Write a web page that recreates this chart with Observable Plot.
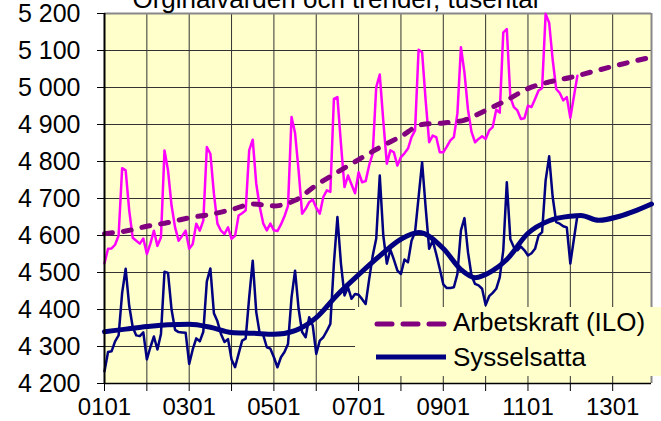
<!DOCTYPE html>
<html>
<head>
<meta charset="utf-8">
<script src="https://cdn.jsdelivr.net/npm/d3@7"></script>
<script src="https://cdn.jsdelivr.net/npm/@observablehq/plot@0.6"></script>
<style>
  html, body { margin: 0; padding: 0; background: white; }
  #wrap { position: relative; width: 661px; height: 421px; overflow: hidden; font-family: "Liberation Sans", Arial, sans-serif; }
  #wrap svg.ov { position: absolute; left: 0; top: 0; }
</style>
</head>
<body>
<div id="wrap"></div>
<script>
// Month index 0 = Jan 2001
const titleText = "Orginalvärden och trender, tusental";
const seriesNames = ["Arbetskraft (ILO)", "Sysselsatta"];
const xTickLabels = ["0101", "0301", "0501", "0701", "0901", "1101", "1301"];
const xLabelIdx = [0, 24, 48, 72, 96, 120, 144];
const yearIdx = [0, 12, 24, 36, 48, 60, 72, 84, 96, 108, 120, 132, 144];
const yTicks = [4200, 4300, 4400, 4500, 4600, 4700, 4800, 4900, 5000, 5100, 5200];

// Labour force, original values (monthly, 2001-01 .. 2012-03)
const lfOrig = [
  4525,4564,4565,4575,4600,4782,4776,4668,4594,4586,4578,4592,
  4550,4578,4613,4572,4595,4830,4776,4681,4622,4586,4599,4613,
  4564,4577,4632,4613,4640,4839,4821,4713,4632,4613,4604,4622,
  4591,4599,4654,4660,4668,4830,4859,4740,4677,4632,4614,4632,
  4614,4612,4630,4652,4680,4920,4877,4776,4659,4672,4690,4697,
  4675,4659,4704,4722,4718,4969,4974,4848,4731,4762,4738,4714,
  4771,4744,4747,4790,4821,5001,5035,4910,4794,4830,4825,4789,
  4812,4822,4835,4866,4884,5102,5095,4965,4852,4870,4866,4825,
  4825,4840,4857,4866,4930,5109,5040,4940,4880,4852,4861,4868,
  4861,4884,4893,4940,4932,5149,5158,4974,4947,4938,4915,4917,
  4951,4947,4969,4992,4998,5199,5175,5075,4996,4985,4965,4974,
  4918,4975,5032
];
// Employed, original values
const empOrig = [
  4233,4285,4287,4314,4330,4445,4510,4410,4352,4330,4328,4338,
  4265,4298,4327,4292,4334,4502,4499,4400,4345,4339,4338,4337,
  4253,4292,4322,4314,4340,4476,4511,4390,4368,4334,4312,4320,
  4265,4244,4280,4316,4321,4433,4532,4393,4334,4330,4298,4294,
  4271,4244,4271,4285,4307,4433,4505,4402,4339,4325,4379,4357,
  4280,4316,4325,4342,4361,4524,4650,4524,4438,4460,4429,4442,
  4440,4428,4415,4482,4545,4592,4762,4600,4524,4562,4535,4505,
  4496,4535,4528,4586,4609,4704,4798,4676,4564,4586,4550,4510,
  4468,4458,4458,4460,4496,4614,4647,4555,4492,4469,4465,4456,
  4412,4436,4445,4456,4487,4560,4744,4590,4568,4560,4570,4560,
  4546,4552,4564,4600,4609,4749,4814,4704,4636,4632,4625,4622,
  4524,4590,4654
];
// Trends (sampled points, drawn with a smooth curve)
const lfTrendIdx = [0,6,12,18,24,30,36,42,48,54,60,66,72,78,84,90,96,102,108,114,120,126,132,138,144,150,155];
const lfTrend = [4605,4612,4625,4635,4648,4657,4670,4685,4680,4695,4736,4771,4805,4838,4868,4900,4904,4912,4938,4966,4997,5015,5027,5042,5057,5071,5082];
const empTrendIdx = [0,6,12,18,24,30,36,42,48,54,60,66,72,78,84,89,96,101,105,110,114,120,126,132,135,140,146,150,155];
const empTrend = [4340,4347,4354,4359,4360,4352,4338,4336,4333,4343,4378,4440,4494,4545,4590,4608,4565,4508,4486,4505,4535,4606,4640,4652,4654,4641,4652,4665,4685];

const colors = { lf: "#FF00FF", emp: "#000080", lfTrend: "#800080", empTrend: "#000080" };

const lfData = lfOrig.map((v, i) => ({ i, v }));
const empData = empOrig.map((v, i) => ({ i, v }));
const lfTrendData = lfTrendIdx.map((i, k) => ({ i, v: lfTrend[k] }));
const empTrendData = empTrendIdx.map((i, k) => ({ i, v: empTrend[k] }));
const xLabelMap = new Map(xLabelIdx.map((d, k) => [d, xTickLabels[k]]));
const fmtY = d => d3.format(",")(d).replace(/,/g, " ");

const chart = Plot.plot({
  width: 661, height: 421,
  marginLeft: 104, marginRight: 10, marginTop: 13, marginBottom: 38,
  style: { fontFamily: "'Liberation Sans', Arial, sans-serif", fontSize: "24px", background: "white", color: "black", overflow: "visible" },
  x: { domain: [0, 155], label: null },
  y: { domain: [4200, 5200], label: null },
  marks: [
    Plot.frame({ fill: "#FFFFCC", stroke: null }),
    Plot.gridX(yearIdx, { stroke: "#333", strokeOpacity: 1, strokeWidth: 1 }),
    Plot.gridY(yTicks, { stroke: "#333", strokeOpacity: 1, strokeWidth: 1 }),
    Plot.ruleY([5200], { stroke: "#888", strokeWidth: 2 }),
    Plot.ruleX([155], { stroke: "#888", strokeWidth: 2 }),
    Plot.line(lfData, { x: "i", y: "v", stroke: colors.lf, strokeWidth: 2.5 }),
    Plot.line(empData, { x: "i", y: "v", stroke: colors.emp, strokeWidth: 2.5 }),
    Plot.line(lfTrendData, { x: "i", y: "v", stroke: colors.lfTrend, strokeWidth: 5, strokeDasharray: "8,11", strokeLinecap: "round", curve: "monotone-x" }),
    Plot.line(empTrendData, { x: "i", y: "v", stroke: colors.empTrend, strokeWidth: 5, curve: "monotone-x" }),
    Plot.ruleX([0], { stroke: "black", strokeWidth: 2 }),
    Plot.ruleY([4200], { stroke: "black", strokeWidth: 1.5 }),
    Plot.axisY(yTicks, { tickSize: 7, tickPadding: 17, tickFormat: fmtY, fontSize: 25, label: null }),
    Plot.axisX(yearIdx, { tickSize: 8, tickFormat: () => "", label: null }),
    Plot.axisX(xLabelIdx, { tickSize: 0, tickPadding: 14, tickFormat: d => xLabelMap.get(d), fontSize: 24, label: null })
  ]
});

const wrap = document.getElementById("wrap");
wrap.appendChild(chart);

// Title and legend overlay
const ns = "http://www.w3.org/2000/svg";
const ov = document.createElementNS(ns, "svg");
ov.setAttribute("class", "ov");
ov.setAttribute("width", 661);
ov.setAttribute("height", 421);
ov.setAttribute("font-family", "'Liberation Sans', Arial, sans-serif");

function el(tag, attrs, text) {
  const e = document.createElementNS(ns, tag);
  for (const k in attrs) e.setAttribute(k, attrs[k]);
  if (text != null) e.textContent = text;
  ov.appendChild(e);
  return e;
}
el("text", { x: 335.5, y: 8, "text-anchor": "middle", "font-size": 26, fill: "black" }, titleText);

el("rect", { x: 355, y: 307, width: 306, height: 69, fill: "#FFFFCC" });
el("line", { x1: 377, x2: 444, y1: 324, y2: 324, stroke: colors.lfTrend, "stroke-width": 5, "stroke-dasharray": "15,11", "stroke-linecap": "round" });
el("text", { x: 453, y: 331, "font-size": 26, fill: "black" }, seriesNames[0]);
el("line", { x1: 376, x2: 446, y1: 357, y2: 357, stroke: colors.empTrend, "stroke-width": 5 });
el("text", { x: 453, y: 365.5, "font-size": 26, fill: "black" }, seriesNames[1]);

wrap.appendChild(ov);
</script>
</body>
</html>
